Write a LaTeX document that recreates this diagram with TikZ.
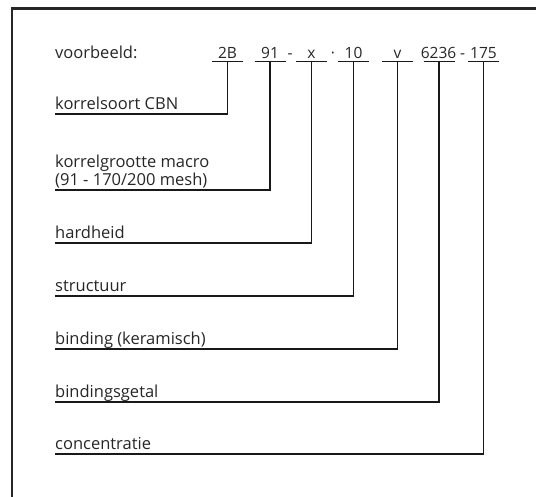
\documentclass[tikz,border=0pt]{standalone}
\usepackage{fontspec}
\setmainfont{Open Sans}
\usetikzlibrary{calc}
\begin{document}
\begin{tikzpicture}[x=1pt,y=-1pt,
  txt/.style={font=\fontsize{16.5}{18}\selectfont, inner sep=0pt, text=black!85},
  lab/.style={txt, anchor=base west},
  code/.style={txt, font=\fontsize{15.5}{18}\selectfont, anchor=base},
  ul/.style={line width=1.2pt, black!90},
  conn/.style={line width=1.2pt, black!90},
  frame/.style={line width=2.2pt, black!85}]
\useasboundingbox (0,0) rectangle (536,497);
% frame
\draw[frame] (12,497) -- (12,8.5) -- (536,8.5);
% header
\node[lab] (vb) at (55,59) {voorbeeld:};
\node[code] (c1) at (227.5,59) {2B};
\node[code] (c2) at (270,59) {91};
\node[code] (d1) at (290,59) {-};
\node[code] (c3) at (311.5,59) {x};
\node[code] (d2) at (333,59) {·};
\node[code] (c4) at (353.5,59) {10};
\node[code] (c5) at (397.5,59) {v};
\node[code] (c6) at (438.5,59) {6236};
\node[code] (d3) at (462.5,59) {-};
\node[code] (c7) at (483.5,59) {175};
% underline points
\foreach \i/\x in {1/227.5,2/270,3/311.5,4/353.5,5/397.5,6/439,7/483.5}{
  \coordinate (u\i) at (\x,61.5);
  \draw[ul] ($(u\i)+(-15.5,0)$) -- ($(u\i)+(15.5,0)$);
}
% labels
\node[lab] (l1) at (55,109.5) {korrelsoort CBN};
\node[lab] (l2a) at (55,168) {korrelgrootte macro};
\node[lab] (l2) at (55,185.5) {(91 - 170/200 mesh)};
\node[lab] (l3) at (55,238.5) {hardheid};
\node[lab] (l4) at (55,291.5) {structuur};
\node[lab] (l5) at (55,344.5) {binding (keramisch)};
\node[lab] (l6) at (55,397.5) {bindingsgetal};
\node[lab] (l7) at (55,449.5) {concentratie};
% connector start points
\coordinate (e1) at (55,114);
\coordinate (e2) at (55,190);
\coordinate (e3) at (55,243);
\coordinate (e4) at (55,296);
\coordinate (e5) at (55,349);
\coordinate (e6) at (55,402);
\coordinate (e7) at (55,454);
\foreach \i in {1,...,7}{
  \draw[conn] (e\i) -| (u\i);
}
\end{tikzpicture}
\end{document}
